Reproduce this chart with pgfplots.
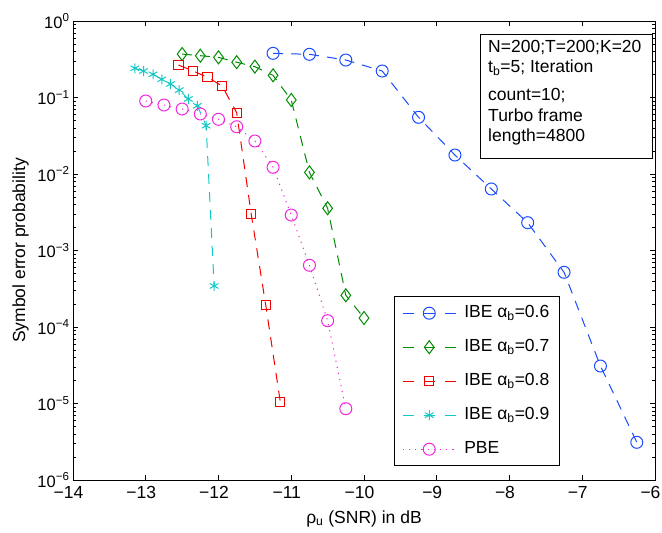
\documentclass[border=0pt]{standalone}
\usepackage{pgfplots}
\pgfplotsset{compat=1.18}
\usepackage{fontspec}
\setmainfont{Liberation Sans}
\definecolor{cB}{RGB}{25,75,255}
\definecolor{cG}{RGB}{0,140,0}
\definecolor{cR}{RGB}{245,0,0}
\definecolor{cC}{RGB}{20,200,200}
\definecolor{cM}{RGB}{240,40,220}
\newcommand{\fs}{\fontsize{17.5bp}{21bp}\selectfont}
\newcommand{\fy}{\fontsize{16.5bp}{20bp}\selectfont}
\pgfplotsset{
  leg/.style={legend image code/.code={\draw[mark repeat=2,mark phase=2,#1] plot coordinates {(0bp,0bp) (26.5bp,0bp) (53bp,0bp)};}},
  dsh/.style={line width=1bp, dash pattern=on 10bp off 8bp, mark options={solid, line width=1bp}, leg={dash pattern=on 11bp off 10bp}},
}
\begin{document}
\begin{tikzpicture}
\begin{axis}[
  at={(0,0)}, anchor=south west,
  scale only axis, width=582bp, height=459bp,
  xmin=-14, xmax=-6, ymin=1e-6, ymax=1, ymode=log,
  xtick={-14,-13,...,-6},
  xticklabels={−14,−13,−12,−11,−10,−9,−8,−7,−6\hspace{12bp}},
  ytick={1e-6,1e-5,1e-4,1e-3,1e-2,1e-1,1},
  yticklabels={10\textsuperscript{−6},10\textsuperscript{−5},10\textsuperscript{−4},10\textsuperscript{−3},10\textsuperscript{−2},10\textsuperscript{−1},10\textsuperscript{0}},
  xticklabel style={font=\fs, xshift=-4.5bp, inner ysep=1bp, yshift=-5bp},
  yticklabel style={font=\fy, inner ysep=0bp},
  label style={font=\fs},
  axis line style={line width=0.8bp},
  major tick length=5bp, minor tick length=3bp,
  every tick/.style={black, line width=0.6bp},
  xlabel={ρ\textsubscript{u} (SNR) in dB},
  ylabel={Symbol error probability},
  xlabel style={at={(axis description cs:0.5,-0.0937)}, anchor=base},
  ylabel style={at={(axis description cs:-0.0902,0.5)}, anchor=center},
  legend style={at={(axis description cs:0.5515,0.0305)}, anchor=south west,
    draw=black, line width=0.6bp, fill=white, font=\fs,
    inner xsep=8bp, inner ysep=5.5bp, row sep=12bp,
    /tikz/every odd column/.append style={column sep=6bp},
    nodes={inner sep=2bp, text height=13bp, text depth=5bp}},
  legend cell align=left,
]
\addplot[cB, dsh, mark=o, mark size=6bp] coordinates {
(-11.25,0.378) (-10.75,0.367) (-10.25,0.309) (-9.75,0.222) (-9.25,0.0551)
(-8.75,0.0177) (-8.25,0.00637) (-7.75,0.00231) (-7.25,0.000519) (-6.75,3.09e-5) (-6.25,3.11e-6)};
\addlegendentry{IBE α\textsubscript{b}=0.6}
\addplot[cG, dsh, mark=diamond, mark size=6.5bp] coordinates {
(-12.5,0.370) (-12.25,0.352) (-12,0.335) (-11.75,0.289) (-11.5,0.253) (-11.25,0.195)
(-11,0.0928) (-10.75,0.0105) (-10.5,0.00356) (-10.25,2.6e-4) (-10,1.31e-4)};
\addlegendentry{IBE α\textsubscript{b}=0.7}
\addplot[cR, dsh, mark=square, mark size=4.6bp] coordinates {
(-12.55,0.266) (-12.35,0.222) (-12.15,0.184) (-11.95,0.141) (-11.75,0.0633)
(-11.55,0.00297) (-11.35,1.92e-4) (-11.15,1.04e-5)};
\addlegendentry{IBE α\textsubscript{b}=0.8}
\addplot[cC, dsh, mark=asterisk, mark size=5bp] coordinates {
(-13.15,0.241) (-13.03,0.222) (-12.9,0.201) (-12.78,0.173) (-12.66,0.150)
(-12.54,0.125) (-12.415,0.0956) (-12.29,0.078) (-12.17,0.0428) (-12.06,3.44e-4)};
\addlegendentry{IBE α\textsubscript{b}=0.9}
\addplot[cM, line width=1bp, dash pattern=on 1.2bp off 5bp, mark=o, mark size=6bp, mark options={solid, line width=1bp}, leg={}] coordinates {
(-13,0.090) (-12.75,0.0798) (-12.5,0.0707) (-12.25,0.0609) (-12,0.0519) (-11.75,0.0415)
(-11.5,0.027) (-11.25,0.01224) (-11,0.00291) (-10.75,6.41e-4) (-10.5,1.21e-4) (-10.25,8.55e-6)};
\addlegendentry{PBE}
\end{axis}
\draw[line width=0.6bp] (407bp,322bp) rectangle (579bp,446bp);
\node[anchor=north west, inner sep=0, font=\fs, align=left] at (415bp,439.6bp)
  {N=200;T=200;K=20\\[-1.5bp]t\textsubscript{b}=5; Iteration\\[7.3bp]count=10;\\[-0.3bp]Turbo frame\\[-0.7bp]length=4800};
\pgfresetboundingbox
\useasboundingbox (-73bp,-53bp) rectangle (589bp,480bp);
\end{tikzpicture}
\end{document}
